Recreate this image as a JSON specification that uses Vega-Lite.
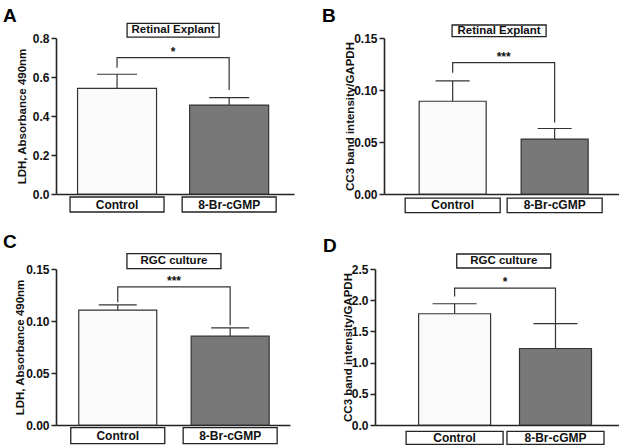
{
  "$schema": "https://vega.github.io/schema/vega-lite/v6.json",
  "background": "white",
  "padding": {"left": 3, "top": 6, "right": 0, "bottom": 0},
  "spacing": 19,
  "datasets": {
    "A": [
      {"group": "Control", "x": 1, "mean": 0.542, "upper": 0.614},
      {"group": "8-Br-cGMP", "x": 2, "mean": 0.456, "upper": 0.494}
    ],
    "A_sig": [
      {"x": 1, "y": 0.648, "o": 1}, {"x": 1, "y": 0.699, "o": 2}, {"x": 2, "y": 0.699, "o": 3}, {"x": 2, "y": 0.533, "o": 4}
    ],
    "B": [
      {"group": "Control", "x": 1, "mean": 0.0892, "upper": 0.1087},
      {"group": "8-Br-cGMP", "x": 2, "mean": 0.0528, "upper": 0.063}
    ],
    "B_sig": [
      {"x": 1, "y": 0.1167, "o": 1}, {"x": 1, "y": 0.1263, "o": 2}, {"x": 2, "y": 0.1263, "o": 3}, {"x": 2, "y": 0.0687, "o": 4}
    ],
    "C": [
      {"group": "Control", "x": 1, "mean": 0.1104, "upper": 0.1155},
      {"group": "8-Br-cGMP", "x": 2, "mean": 0.0854, "upper": 0.0934}
    ],
    "C_sig": [
      {"x": 1, "y": 0.118, "o": 1}, {"x": 1, "y": 0.1328, "o": 2}, {"x": 2, "y": 0.1328, "o": 3}, {"x": 2, "y": 0.096, "o": 4}
    ],
    "D": [
      {"group": "Control", "x": 1, "mean": 1.783, "upper": 1.943},
      {"group": "8-Br-cGMP", "x": 2, "mean": 1.226, "upper": 1.624}
    ],
    "D_sig": [
      {"x": 1, "y": 2.06, "o": 1}, {"x": 1, "y": 2.193, "o": 2}, {"x": 2, "y": 2.193, "o": 3}, {"x": 2, "y": 1.635, "o": 4}
    ]
  },
  "config": {
    "view": {"stroke": null},
    "font": "Liberation Sans",
    "axis": {
      "grid": false, "domainColor": "#222", "domainWidth": 1.6, "tickColor": "#222", "tickWidth": 1.5, "tickSize": 5,
      "labelFont": "Liberation Sans", "labelFontWeight": "bold", "labelFontSize": 12, "labelColor": "#111", "labelPadding": 2, "labelFlush": false, "labelOverlap": false,
      "titleFont": "Liberation Sans", "titleFontWeight": "bold", "titleFontSize": 11.5, "titleColor": "#111"
    },
    "title": {"font": "Liberation Sans", "fontSize": 19, "fontWeight": "bold", "anchor": "start", "frame": "group", "color": "#000"},
    "text": {"font": "Liberation Sans", "fontWeight": "bold", "color": "#111"}
  },
  "vconcat": [
    {
      "bounds": "flush",
      "spacing": 90,
      "hconcat": [
        {
          "width": 238, "height": 156,
          "title": {"text": "A", "dx": -53, "offset": -3},
          "layer": [
            {"data": {"name": "A"}, "mark": {"type": "bar", "orient": "vertical", "width": 79, "stroke": "#333", "strokeWidth": 1.2},
             "encoding": {
               "x": {"field": "x", "type": "quantitative", "scale": {"domain": [0.5, 2.534], "nice": false, "zero": false}, "axis": {"title": null, "labels": false, "ticks": false}},
               "y": {"field": "mean", "type": "quantitative", "scale": {"domain": [0, 0.8], "nice": false, "zero": false}, "axis": {"title": "LDH, Absorbance 490nm", "values": [0, 0.2, 0.4, 0.6, 0.8], "format": ".1f", "titlePadding": 5, "labelOverlap": false}},
               "fill": {"field": "group", "type": "nominal", "scale": {"domain": ["Control", "8-Br-cGMP"], "range": ["#fafafa", "#787878"]}, "legend": null}
             }},
            {"data": {"name": "A"}, "mark": {"type": "rule", "stroke": "#333", "strokeWidth": 1.2},
             "encoding": {
               "x": {"field": "x", "type": "quantitative", "scale": {"domain": [0.5, 2.534], "nice": false, "zero": false}, "axis": {"title": null, "labels": false, "ticks": false}},
               "y": {"field": "mean", "type": "quantitative", "scale": {"domain": [0, 0.8], "nice": false, "zero": false}, "axis": {"title": "LDH, Absorbance 490nm", "values": [0, 0.2, 0.4, 0.6, 0.8], "format": ".1f", "titlePadding": 5, "labelOverlap": false}},
               "y2": {"field": "upper"}}},
            {"data": {"name": "A"}, "mark": {"type": "rule", "stroke": "#333", "strokeWidth": 1.2, "xOffset": -20, "x2Offset": 20},
             "encoding": {
               "x": {"field": "x", "type": "quantitative", "scale": {"domain": [0.5, 2.534], "nice": false, "zero": false}, "axis": {"title": null, "labels": false, "ticks": false}},
               "x2": {"field": "x"},
               "y": {"field": "upper", "type": "quantitative", "scale": {"domain": [0, 0.8], "nice": false, "zero": false}, "axis": {"title": "LDH, Absorbance 490nm", "values": [0, 0.2, 0.4, 0.6, 0.8], "format": ".1f", "titlePadding": 5, "labelOverlap": false}}}},
            {"data": {"name": "A_sig"}, "mark": {"type": "line", "stroke": "#333", "strokeWidth": 1.2},
             "encoding": {
               "x": {"field": "x", "type": "quantitative", "scale": {"domain": [0.5, 2.534], "nice": false, "zero": false}, "axis": {"title": null, "labels": false, "ticks": false}},
               "y": {"field": "y", "type": "quantitative", "scale": {"domain": [0, 0.8], "nice": false, "zero": false}, "axis": {"title": "LDH, Absorbance 490nm", "values": [0, 0.2, 0.4, 0.6, 0.8], "format": ".1f", "titlePadding": 5, "labelOverlap": false}},
               "order": {"field": "o"}}},
            {"data": {"values": [{"label": "*", "x": 1.5}]}, "mark": {"type": "text", "fontSize": 12, "baseline": "alphabetic", "dy": -2},
             "encoding": {
               "x": {"field": "x", "type": "quantitative", "scale": {"domain": [0.5, 2.534], "nice": false, "zero": false}, "axis": {"title": null, "labels": false, "ticks": false}},
               "y": {"datum": 0.699, "type": "quantitative", "scale": {"domain": [0, 0.8], "nice": false, "zero": false}, "axis": {"title": "LDH, Absorbance 490nm", "values": [0, 0.2, 0.4, 0.6, 0.8], "format": ".1f", "titlePadding": 5, "labelOverlap": false}},
               "text": {"field": "label"}}},
            {"data": {"values": [{"label": "Retinal Explant", "x": 1.5}]}, "mark": {"type": "bar", "orient": "vertical", "width": 92, "fill": "white", "stroke": "#222", "strokeWidth": 1.3},
             "encoding": {
               "x": {"field": "x", "type": "quantitative", "scale": {"domain": [0.5, 2.534], "nice": false, "zero": false}, "axis": {"title": null, "labels": false, "ticks": false}},
               "y": {"datum": 0.8754, "type": "quantitative", "scale": {"domain": [0, 0.8], "nice": false, "zero": false}, "axis": {"title": "LDH, Absorbance 490nm", "values": [0, 0.2, 0.4, 0.6, 0.8], "format": ".1f", "titlePadding": 5, "labelOverlap": false}},
               "y2": {"datum": 0.805}}},
            {"data": {"values": [{"label": "Retinal Explant", "x": 1.5}]}, "mark": {"type": "text", "fontSize": 11.5, "baseline": "middle"},
             "encoding": {
               "x": {"field": "x", "type": "quantitative", "scale": {"domain": [0.5, 2.534], "nice": false, "zero": false}, "axis": {"title": null, "labels": false, "ticks": false}},
               "y": {"datum": 0.840, "type": "quantitative", "scale": {"domain": [0, 0.8], "nice": false, "zero": false}, "axis": {"title": "LDH, Absorbance 490nm", "values": [0, 0.2, 0.4, 0.6, 0.8], "format": ".1f", "titlePadding": 5, "labelOverlap": false}},
               "text": {"field": "label"}}},
            {"data": {"name": "A"}, "mark": {"type": "bar", "orient": "vertical", "width": 94, "fill": "white", "stroke": "#222", "strokeWidth": 1.3},
             "encoding": {
               "x": {"field": "x", "type": "quantitative", "scale": {"domain": [0.5, 2.534], "nice": false, "zero": false}, "axis": {"title": null, "labels": false, "ticks": false}},
               "y": {"datum": -0.0154, "type": "quantitative", "scale": {"domain": [0, 0.8], "nice": false, "zero": false}, "axis": {"title": "LDH, Absorbance 490nm", "values": [0, 0.2, 0.4, 0.6, 0.8], "format": ".1f", "titlePadding": 5, "labelOverlap": false}},
               "y2": {"datum": -0.0923}}},
            {"data": {"name": "A"}, "mark": {"type": "text", "fontSize": 12, "baseline": "middle"},
             "encoding": {
               "x": {"field": "x", "type": "quantitative", "scale": {"domain": [0.5, 2.534], "nice": false, "zero": false}, "axis": {"title": null, "labels": false, "ticks": false}},
               "y": {"datum": -0.054, "type": "quantitative", "scale": {"domain": [0, 0.8], "nice": false, "zero": false}, "axis": {"title": "LDH, Absorbance 490nm", "values": [0, 0.2, 0.4, 0.6, 0.8], "format": ".1f", "titlePadding": 5, "labelOverlap": false}},
               "text": {"field": "group"}}}
          ]
        },
        {
          "width": 235, "height": 156,
          "title": {"text": "B", "dx": -62, "offset": -2},
          "layer": [
            {"data": {"name": "B"}, "mark": {"type": "bar", "orient": "vertical", "width": 67, "stroke": "#333", "strokeWidth": 1.2},
             "encoding": {
               "x": {"field": "x", "type": "quantitative", "scale": {"domain": [0.3756, 2.582], "nice": false, "zero": false}, "axis": {"title": null, "labels": false, "ticks": false}},
               "y": {"field": "mean", "type": "quantitative", "scale": {"domain": [0, 0.15], "nice": false, "zero": false}, "axis": {"title": "CC3 band intensity/GAPDH", "values": [0, 0.05, 0.1, 0.15], "format": ".2f", "titlePadding": -2, "labelOverlap": false}},
               "fill": {"field": "group", "type": "nominal", "scale": {"domain": ["Control", "8-Br-cGMP"], "range": ["#fafafa", "#787878"]}, "legend": null}
             }},
            {"data": {"name": "B"}, "mark": {"type": "rule", "stroke": "#333", "strokeWidth": 1.2},
             "encoding": {
               "x": {"field": "x", "type": "quantitative", "scale": {"domain": [0.3756, 2.582], "nice": false, "zero": false}, "axis": {"title": null, "labels": false, "ticks": false}},
               "y": {"field": "mean", "type": "quantitative", "scale": {"domain": [0, 0.15], "nice": false, "zero": false}, "axis": {"title": "CC3 band intensity/GAPDH", "values": [0, 0.05, 0.1, 0.15], "format": ".2f", "titlePadding": -2, "labelOverlap": false}},
               "y2": {"field": "upper"}}},
            {"data": {"name": "B"}, "mark": {"type": "rule", "stroke": "#333", "strokeWidth": 1.2, "xOffset": -17, "x2Offset": 17},
             "encoding": {
               "x": {"field": "x", "type": "quantitative", "scale": {"domain": [0.3756, 2.582], "nice": false, "zero": false}, "axis": {"title": null, "labels": false, "ticks": false}},
               "x2": {"field": "x"},
               "y": {"field": "upper", "type": "quantitative", "scale": {"domain": [0, 0.15], "nice": false, "zero": false}, "axis": {"title": "CC3 band intensity/GAPDH", "values": [0, 0.05, 0.1, 0.15], "format": ".2f", "titlePadding": -2, "labelOverlap": false}}}},
            {"data": {"name": "B_sig"}, "mark": {"type": "line", "stroke": "#333", "strokeWidth": 1.2},
             "encoding": {
               "x": {"field": "x", "type": "quantitative", "scale": {"domain": [0.3756, 2.582], "nice": false, "zero": false}, "axis": {"title": null, "labels": false, "ticks": false}},
               "y": {"field": "y", "type": "quantitative", "scale": {"domain": [0, 0.15], "nice": false, "zero": false}, "axis": {"title": "CC3 band intensity/GAPDH", "values": [0, 0.05, 0.1, 0.15], "format": ".2f", "titlePadding": -2, "labelOverlap": false}},
               "order": {"field": "o"}}},
            {"data": {"values": [{"label": "***", "x": 1.5}]}, "mark": {"type": "text", "fontSize": 12, "baseline": "alphabetic", "dy": -2},
             "encoding": {
               "x": {"field": "x", "type": "quantitative", "scale": {"domain": [0.3756, 2.582], "nice": false, "zero": false}, "axis": {"title": null, "labels": false, "ticks": false}},
               "y": {"datum": 0.1263, "type": "quantitative", "scale": {"domain": [0, 0.15], "nice": false, "zero": false}, "axis": {"title": "CC3 band intensity/GAPDH", "values": [0, 0.05, 0.1, 0.15], "format": ".2f", "titlePadding": -2, "labelOverlap": false}},
               "text": {"field": "label"}}},
            {"data": {"values": [{"label": "Retinal Explant", "x": 1.455}]}, "mark": {"type": "bar", "orient": "vertical", "width": 94, "fill": "white", "stroke": "#222", "strokeWidth": 1.3},
             "encoding": {
               "x": {"field": "x", "type": "quantitative", "scale": {"domain": [0.3756, 2.582], "nice": false, "zero": false}, "axis": {"title": null, "labels": false, "ticks": false}},
               "y": {"datum": 0.1625, "type": "quantitative", "scale": {"domain": [0, 0.15], "nice": false, "zero": false}, "axis": {"title": "CC3 band intensity/GAPDH", "values": [0, 0.05, 0.1, 0.15], "format": ".2f", "titlePadding": -2, "labelOverlap": false}},
               "y2": {"datum": 0.1513}}},
            {"data": {"values": [{"label": "Retinal Explant", "x": 1.455}]}, "mark": {"type": "text", "fontSize": 11.5, "baseline": "middle"},
             "encoding": {
               "x": {"field": "x", "type": "quantitative", "scale": {"domain": [0.3756, 2.582], "nice": false, "zero": false}, "axis": {"title": null, "labels": false, "ticks": false}},
               "y": {"datum": 0.1569, "type": "quantitative", "scale": {"domain": [0, 0.15], "nice": false, "zero": false}, "axis": {"title": "CC3 band intensity/GAPDH", "values": [0, 0.05, 0.1, 0.15], "format": ".2f", "titlePadding": -2, "labelOverlap": false}},
               "text": {"field": "label"}}},
            {"data": {"name": "B"}, "mark": {"type": "bar", "orient": "vertical", "width": 95, "fill": "white", "stroke": "#222", "strokeWidth": 1.3},
             "encoding": {
               "x": {"field": "x", "type": "quantitative", "scale": {"domain": [0.3756, 2.582], "nice": false, "zero": false}, "axis": {"title": null, "labels": false, "ticks": false}},
               "y": {"datum": -0.004, "type": "quantitative", "scale": {"domain": [0, 0.15], "nice": false, "zero": false}, "axis": {"title": "CC3 band intensity/GAPDH", "values": [0, 0.05, 0.1, 0.15], "format": ".2f", "titlePadding": -2, "labelOverlap": false}},
               "y2": {"datum": -0.018}}},
            {"data": {"name": "B"}, "mark": {"type": "text", "fontSize": 12, "baseline": "middle"},
             "encoding": {
               "x": {"field": "x", "type": "quantitative", "scale": {"domain": [0.3756, 2.582], "nice": false, "zero": false}, "axis": {"title": null, "labels": false, "ticks": false}},
               "y": {"datum": -0.011, "type": "quantitative", "scale": {"domain": [0, 0.15], "nice": false, "zero": false}, "axis": {"title": "CC3 band intensity/GAPDH", "values": [0, 0.05, 0.1, 0.15], "format": ".2f", "titlePadding": -2, "labelOverlap": false}},
               "text": {"field": "group"}}}
          ]
        }
      ]
    },
    {
      "bounds": "flush",
      "spacing": 85,
      "hconcat": [
        {
          "width": 234, "height": 156,
          "title": {"text": "C", "dx": -53, "offset": 1},
          "layer": [
            {"data": {"name": "C"}, "mark": {"type": "bar", "orient": "vertical", "width": 78, "stroke": "#333", "strokeWidth": 1.2},
             "encoding": {
               "x": {"field": "x", "type": "quantitative", "scale": {"domain": [0.495, 2.488], "nice": false, "zero": false}, "axis": {"title": null, "labels": false, "ticks": false}},
               "y": {"field": "mean", "type": "quantitative", "scale": {"domain": [0, 0.15], "nice": false, "zero": false}, "axis": {"title": "LDH, Absorbance 490nm", "values": [0, 0.05, 0.1, 0.15], "format": ".2f", "titlePadding": 0, "labelOverlap": false}},
               "fill": {"field": "group", "type": "nominal", "scale": {"domain": ["Control", "8-Br-cGMP"], "range": ["#fafafa", "#787878"]}, "legend": null}
             }},
            {"data": {"name": "C"}, "mark": {"type": "rule", "stroke": "#333", "strokeWidth": 1.2},
             "encoding": {
               "x": {"field": "x", "type": "quantitative", "scale": {"domain": [0.495, 2.488], "nice": false, "zero": false}, "axis": {"title": null, "labels": false, "ticks": false}},
               "y": {"field": "mean", "type": "quantitative", "scale": {"domain": [0, 0.15], "nice": false, "zero": false}, "axis": {"title": "LDH, Absorbance 490nm", "values": [0, 0.05, 0.1, 0.15], "format": ".2f", "titlePadding": 0, "labelOverlap": false}},
               "y2": {"field": "upper"}}},
            {"data": {"name": "C"}, "mark": {"type": "rule", "stroke": "#333", "strokeWidth": 1.2, "xOffset": -19, "x2Offset": 19},
             "encoding": {
               "x": {"field": "x", "type": "quantitative", "scale": {"domain": [0.495, 2.488], "nice": false, "zero": false}, "axis": {"title": null, "labels": false, "ticks": false}},
               "x2": {"field": "x"},
               "y": {"field": "upper", "type": "quantitative", "scale": {"domain": [0, 0.15], "nice": false, "zero": false}, "axis": {"title": "LDH, Absorbance 490nm", "values": [0, 0.05, 0.1, 0.15], "format": ".2f", "titlePadding": 0, "labelOverlap": false}}}},
            {"data": {"name": "C_sig"}, "mark": {"type": "line", "stroke": "#333", "strokeWidth": 1.2},
             "encoding": {
               "x": {"field": "x", "type": "quantitative", "scale": {"domain": [0.495, 2.488], "nice": false, "zero": false}, "axis": {"title": null, "labels": false, "ticks": false}},
               "y": {"field": "y", "type": "quantitative", "scale": {"domain": [0, 0.15], "nice": false, "zero": false}, "axis": {"title": "LDH, Absorbance 490nm", "values": [0, 0.05, 0.1, 0.15], "format": ".2f", "titlePadding": 0, "labelOverlap": false}},
               "order": {"field": "o"}}},
            {"data": {"values": [{"label": "***", "x": 1.5}]}, "mark": {"type": "text", "fontSize": 12, "baseline": "alphabetic", "dy": -2},
             "encoding": {
               "x": {"field": "x", "type": "quantitative", "scale": {"domain": [0.495, 2.488], "nice": false, "zero": false}, "axis": {"title": null, "labels": false, "ticks": false}},
               "y": {"datum": 0.1328, "type": "quantitative", "scale": {"domain": [0, 0.15], "nice": false, "zero": false}, "axis": {"title": "LDH, Absorbance 490nm", "values": [0, 0.05, 0.1, 0.15], "format": ".2f", "titlePadding": 0, "labelOverlap": false}},
               "text": {"field": "label"}}},
            {"data": {"values": [{"label": "RGC culture", "x": 1.5}]}, "mark": {"type": "bar", "orient": "vertical", "width": 94, "fill": "white", "stroke": "#222", "strokeWidth": 1.3},
             "encoding": {
               "x": {"field": "x", "type": "quantitative", "scale": {"domain": [0.495, 2.488], "nice": false, "zero": false}, "axis": {"title": null, "labels": false, "ticks": false}},
               "y": {"datum": 0.1647, "type": "quantitative", "scale": {"domain": [0, 0.15], "nice": false, "zero": false}, "axis": {"title": "LDH, Absorbance 490nm", "values": [0, 0.05, 0.1, 0.15], "format": ".2f", "titlePadding": 0, "labelOverlap": false}},
               "y2": {"datum": 0.1503}}},
            {"data": {"values": [{"label": "RGC culture", "x": 1.5}]}, "mark": {"type": "text", "fontSize": 11.5, "baseline": "middle"},
             "encoding": {
               "x": {"field": "x", "type": "quantitative", "scale": {"domain": [0.495, 2.488], "nice": false, "zero": false}, "axis": {"title": null, "labels": false, "ticks": false}},
               "y": {"datum": 0.1575, "type": "quantitative", "scale": {"domain": [0, 0.15], "nice": false, "zero": false}, "axis": {"title": "LDH, Absorbance 490nm", "values": [0, 0.05, 0.1, 0.15], "format": ".2f", "titlePadding": 0, "labelOverlap": false}},
               "text": {"field": "label"}}},
            {"data": {"name": "C"}, "mark": {"type": "bar", "orient": "vertical", "width": 94, "fill": "white", "stroke": "#222", "strokeWidth": 1.3},
             "encoding": {
               "x": {"field": "x", "type": "quantitative", "scale": {"domain": [0.495, 2.488], "nice": false, "zero": false}, "axis": {"title": null, "labels": false, "ticks": false}},
               "y": {"datum": -0.0026, "type": "quantitative", "scale": {"domain": [0, 0.15], "nice": false, "zero": false}, "axis": {"title": "LDH, Absorbance 490nm", "values": [0, 0.05, 0.1, 0.15], "format": ".2f", "titlePadding": 0, "labelOverlap": false}},
               "y2": {"datum": -0.018}}},
            {"data": {"name": "C"}, "mark": {"type": "text", "fontSize": 12, "baseline": "middle"},
             "encoding": {
               "x": {"field": "x", "type": "quantitative", "scale": {"domain": [0.495, 2.488], "nice": false, "zero": false}, "axis": {"title": null, "labels": false, "ticks": false}},
               "y": {"datum": -0.0103, "type": "quantitative", "scale": {"domain": [0, 0.15], "nice": false, "zero": false}, "axis": {"title": "LDH, Absorbance 490nm", "values": [0, 0.05, 0.1, 0.15], "format": ".2f", "titlePadding": 0, "labelOverlap": false}},
               "text": {"field": "group"}}}
          ]
        },
        {
          "width": 244, "height": 156,
          "title": {"text": "D", "dx": -52, "offset": -3},
          "layer": [
            {"data": {"name": "D"}, "mark": {"type": "bar", "orient": "vertical", "width": 72, "stroke": "#333", "strokeWidth": 1.2},
             "encoding": {
               "x": {"field": "x", "type": "quantitative", "scale": {"domain": [0.2605, 2.58], "nice": false, "zero": false}, "axis": {"title": null, "labels": false, "ticks": false}},
               "y": {"field": "mean", "type": "quantitative", "scale": {"domain": [0, 2.5], "nice": false, "zero": false}, "axis": {"title": "CC3 band intensity/GAPDH", "values": [0, 0.5, 1, 1.5, 2, 2.5], "format": ".1f", "titlePadding": -2, "labelOverlap": false}},
               "fill": {"field": "group", "type": "nominal", "scale": {"domain": ["Control", "8-Br-cGMP"], "range": ["#fafafa", "#787878"]}, "legend": null}
             }},
            {"data": {"name": "D"}, "mark": {"type": "rule", "stroke": "#333", "strokeWidth": 1.2},
             "encoding": {
               "x": {"field": "x", "type": "quantitative", "scale": {"domain": [0.2605, 2.58], "nice": false, "zero": false}, "axis": {"title": null, "labels": false, "ticks": false}},
               "y": {"field": "mean", "type": "quantitative", "scale": {"domain": [0, 2.5], "nice": false, "zero": false}, "axis": {"title": "CC3 band intensity/GAPDH", "values": [0, 0.5, 1, 1.5, 2, 2.5], "format": ".1f", "titlePadding": -2, "labelOverlap": false}},
               "y2": {"field": "upper"}}},
            {"data": {"name": "D"}, "mark": {"type": "rule", "stroke": "#333", "strokeWidth": 1.2, "xOffset": -22, "x2Offset": 22},
             "encoding": {
               "x": {"field": "x", "type": "quantitative", "scale": {"domain": [0.2605, 2.58], "nice": false, "zero": false}, "axis": {"title": null, "labels": false, "ticks": false}},
               "x2": {"field": "x"},
               "y": {"field": "upper", "type": "quantitative", "scale": {"domain": [0, 2.5], "nice": false, "zero": false}, "axis": {"title": "CC3 band intensity/GAPDH", "values": [0, 0.5, 1, 1.5, 2, 2.5], "format": ".1f", "titlePadding": -2, "labelOverlap": false}}}},
            {"data": {"name": "D_sig"}, "mark": {"type": "line", "stroke": "#333", "strokeWidth": 1.2},
             "encoding": {
               "x": {"field": "x", "type": "quantitative", "scale": {"domain": [0.2605, 2.58], "nice": false, "zero": false}, "axis": {"title": null, "labels": false, "ticks": false}},
               "y": {"field": "y", "type": "quantitative", "scale": {"domain": [0, 2.5], "nice": false, "zero": false}, "axis": {"title": "CC3 band intensity/GAPDH", "values": [0, 0.5, 1, 1.5, 2, 2.5], "format": ".1f", "titlePadding": -2, "labelOverlap": false}},
               "order": {"field": "o"}}},
            {"data": {"values": [{"label": "*", "x": 1.5}]}, "mark": {"type": "text", "fontSize": 12, "baseline": "alphabetic", "dy": -2},
             "encoding": {
               "x": {"field": "x", "type": "quantitative", "scale": {"domain": [0.2605, 2.58], "nice": false, "zero": false}, "axis": {"title": null, "labels": false, "ticks": false}},
               "y": {"datum": 2.193, "type": "quantitative", "scale": {"domain": [0, 2.5], "nice": false, "zero": false}, "axis": {"title": "CC3 band intensity/GAPDH", "values": [0, 0.5, 1, 1.5, 2, 2.5], "format": ".1f", "titlePadding": -2, "labelOverlap": false}},
               "text": {"field": "label"}}},
            {"data": {"values": [{"label": "RGC culture", "x": 1.487}]}, "mark": {"type": "bar", "orient": "vertical", "width": 94, "fill": "white", "stroke": "#222", "strokeWidth": 1.3},
             "encoding": {
               "x": {"field": "x", "type": "quantitative", "scale": {"domain": [0.2605, 2.58], "nice": false, "zero": false}, "axis": {"title": null, "labels": false, "ticks": false}},
               "y": {"datum": 2.74, "type": "quantitative", "scale": {"domain": [0, 2.5], "nice": false, "zero": false}, "axis": {"title": "CC3 band intensity/GAPDH", "values": [0, 0.5, 1, 1.5, 2, 2.5], "format": ".1f", "titlePadding": -2, "labelOverlap": false}},
               "y2": {"datum": 2.516}}},
            {"data": {"values": [{"label": "RGC culture", "x": 1.487}]}, "mark": {"type": "text", "fontSize": 11.5, "baseline": "middle"},
             "encoding": {
               "x": {"field": "x", "type": "quantitative", "scale": {"domain": [0.2605, 2.58], "nice": false, "zero": false}, "axis": {"title": null, "labels": false, "ticks": false}},
               "y": {"datum": 2.628, "type": "quantitative", "scale": {"domain": [0, 2.5], "nice": false, "zero": false}, "axis": {"title": "CC3 band intensity/GAPDH", "values": [0, 0.5, 1, 1.5, 2, 2.5], "format": ".1f", "titlePadding": -2, "labelOverlap": false}},
               "text": {"field": "label"}}},
            {"data": {"name": "D"}, "mark": {"type": "bar", "orient": "vertical", "width": 97, "fill": "white", "stroke": "#222", "strokeWidth": 1.3},
             "encoding": {
               "x": {"field": "x", "type": "quantitative", "scale": {"domain": [0.2605, 2.58], "nice": false, "zero": false}, "axis": {"title": null, "labels": false, "ticks": false}},
               "y": {"datum": -0.101, "type": "quantitative", "scale": {"domain": [0, 2.5], "nice": false, "zero": false}, "axis": {"title": "CC3 band intensity/GAPDH", "values": [0, 0.5, 1, 1.5, 2, 2.5], "format": ".1f", "titlePadding": -2, "labelOverlap": false}},
               "y2": {"datum": -0.309}}},
            {"data": {"name": "D"}, "mark": {"type": "text", "fontSize": 12, "baseline": "middle"},
             "encoding": {
               "x": {"field": "x", "type": "quantitative", "scale": {"domain": [0.2605, 2.58], "nice": false, "zero": false}, "axis": {"title": null, "labels": false, "ticks": false}},
               "y": {"datum": -0.205, "type": "quantitative", "scale": {"domain": [0, 2.5], "nice": false, "zero": false}, "axis": {"title": "CC3 band intensity/GAPDH", "values": [0, 0.5, 1, 1.5, 2, 2.5], "format": ".1f", "titlePadding": -2, "labelOverlap": false}},
               "text": {"field": "group"}}}
          ]
        }
      ]
    }
  ]
}
